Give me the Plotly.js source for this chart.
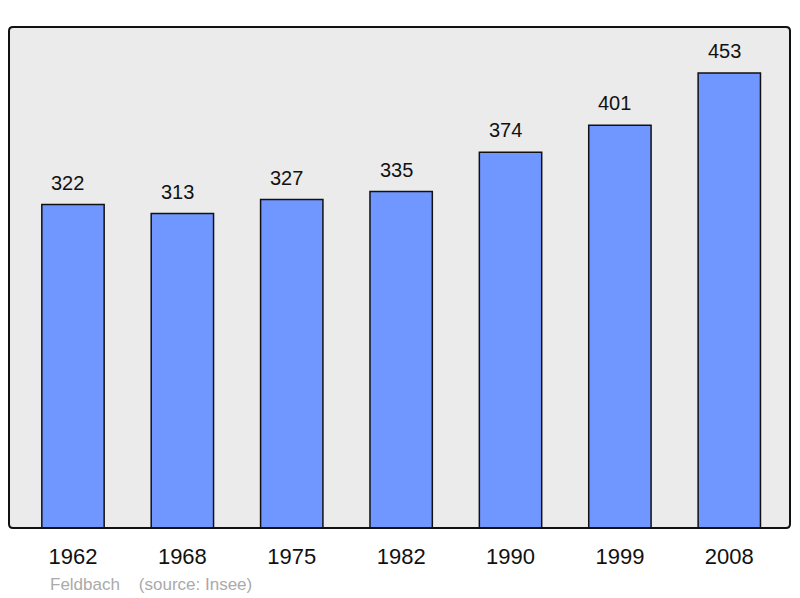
<!DOCTYPE html>
<html><head><meta charset="utf-8">
<script src="https://cdn.plot.ly/plotly-3.0.1.min.js"></script>
<style>html,body{margin:0;padding:0;background:#fff}#chart{width:800px;height:598px}</style>
</head><body><div id="chart"></div>
<script>
var years = ['1962','1968','1975','1982','1990','1999','2008'];
var population = [322, 313, 327, 335, 374, 401, 453];
var footerText = 'Feldbach    (source: Insee)';

var idx = years.map(function(_, i){ return i; });

var trace = {
  type: 'bar',
  x: idx,
  y: population,
  width: 0.57,
  marker: {color: '#7097ff', line: {color: '#111', width: 1.5}},
  hoverinfo: 'x+y'
};

var annotations = population.map(function(v, i){
  return {x: i, y: v, xref: 'x', yref: 'y', text: String(v), showarrow: false,
    yanchor: 'bottom', yshift: 9, xshift: -5, font: {family: 'Liberation Sans, Arial, sans-serif', size: 20, color: '#111'}};
});
annotations.push({xref: 'paper', yref: 'paper', x: 0.05, y: -0.112, xanchor: 'left', yanchor: 'middle',
  text: footerText.replace(/ /g, '&nbsp;'), showarrow: false,
  font: {family: 'Liberation Sans, Arial, sans-serif', size: 17, color: '#aaaaaa'}});

var r = 4, W = 781, H = 501;
var rx = r / W, ry = r / H;
var path = 'M ' + rx + ' 0 L ' + (1 - rx) + ' 0 Q 1 0 1 ' + ry + ' L 1 ' + (1 - ry) + ' Q 1 1 ' + (1 - rx) + ' 1 L ' + rx + ' 1 Q 0 1 0 ' + (1 - ry) + ' L 0 ' + ry + ' Q 0 0 ' + rx + ' 0 Z';

var layout = {
  width: 800, height: 598,
  margin: {l: 9, r: 10, t: 27, b: 70, pad: 0},
  paper_bgcolor: '#ffffff',
  plot_bgcolor: '#ebebeb',
  showlegend: false,
  bargap: 0,
  xaxis: {range: [-0.585, 6.555], tickvals: idx, ticktext: years, showgrid: false, zeroline: false,
    ticks: 'outside', ticklen: 9, tickcolor: 'rgba(0,0,0,0)', tickfont: {family: 'Liberation Sans, Arial, sans-serif', size: 22, color: '#111'}, fixedrange: true},
  yaxis: {range: [0, 498.8], showgrid: false, zeroline: false, showticklabels: false, ticks: '', fixedrange: true},
  annotations: annotations,
  shapes: [{type: 'path', xref: 'paper', yref: 'paper', path: path, line: {color: '#111', width: 2}, layer: 'above'}]
};

Plotly.newPlot('chart', [trace], layout, {displayModeBar: false, staticPlot: true});
</script></body></html>
